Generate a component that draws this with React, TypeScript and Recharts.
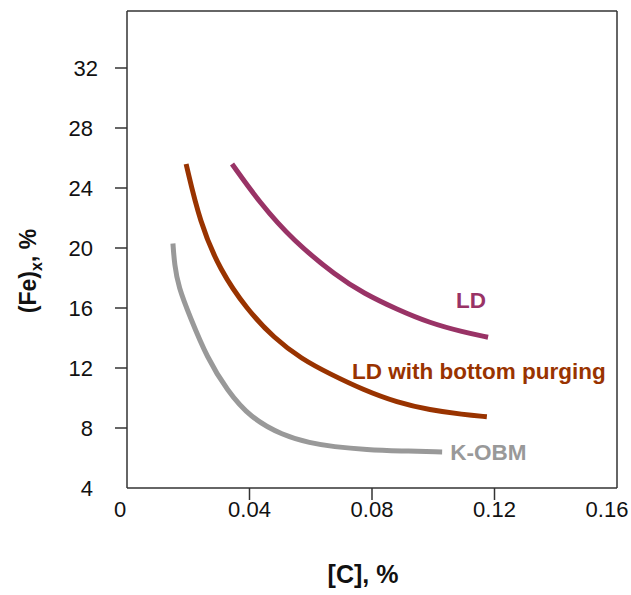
import { LineChart, Line, XAxis, YAxis, ReferenceLine, ReferenceDot } from "recharts";

// curves: x = [C] %, y = (Fe)x %
const ldCurve = [
  { x: 0.0343, y: 25.6 },
  { x: 0.0434, y: 23.0 },
  { x: 0.0542, y: 20.5 },
  { x: 0.0686, y: 18.1 },
  { x: 0.0771, y: 17.0 },
  { x: 0.0882, y: 15.9 },
  { x: 0.0989, y: 15.0 },
  { x: 0.1097, y: 14.4 },
  { x: 0.1179, y: 14.05 },
];

const ldBottomCurve = [
  { x: 0.0193, y: 25.6 },
  { x: 0.0238, y: 21.7 },
  { x: 0.0304, y: 18.5 },
  { x: 0.0392, y: 15.9 },
  { x: 0.048, y: 14.0 },
  { x: 0.057, y: 12.6 },
  { x: 0.0663, y: 11.6 },
  { x: 0.0771, y: 10.55 },
  { x: 0.0882, y: 9.7 },
  { x: 0.0989, y: 9.2 },
  { x: 0.1097, y: 8.9 },
  { x: 0.1175, y: 8.75 },
];

const kobmCurve = [
  { x: 0.015, y: 20.3 },
  { x: 0.0155, y: 18.9 },
  { x: 0.0168, y: 17.4 },
  { x: 0.0206, y: 15.4 },
  { x: 0.0261, y: 12.7 },
  { x: 0.0327, y: 10.5 },
  { x: 0.0402, y: 8.7 },
  { x: 0.0509, y: 7.5 },
  { x: 0.0598, y: 7.0 },
  { x: 0.0673, y: 6.75 },
  { x: 0.0784, y: 6.55 },
  { x: 0.0892, y: 6.47 },
  { x: 0.1029, y: 6.4 },
];

const xTicks = [0, 0.04, 0.08, 0.12, 0.16];
const yTicks = [4, 8, 12, 16, 20, 24, 28, 32];

const seriesLabels = [
  { text: "LD", x: 0.1123, y: 16.53, color: "#993366" },
  { text: "LD with bottom purging", x: 0.1149, y: 11.77, color: "#993300" },
  { text: "K-OBM", x: 0.118, y: 6.43, color: "#999999" },
];

const FONT = "'Liberation Sans', Arial, sans-serif";
const AXIS = "#333";

const XTick = (props: any) => {
  const { x, y, payload } = props;
  const v = payload.value;
  const showLine = v !== 0 && v !== 0.16;
  const dx = v === 0 ? -7 : v === 0.16 ? -10 : 0;
  return (
    <g>
      {showLine && <line x1={x} y1={y} x2={x} y2={y + 12} stroke={AXIS} strokeWidth={1.5} />}
      <text x={x + dx} y={y + 29} textAnchor="middle" fontFamily={FONT} fontSize={22} fill="#111">
        {v}
      </text>
    </g>
  );
};

const YTick = (props: any) => {
  const { x, y, payload } = props;
  const v = payload.value;
  return (
    <g>
      {v !== 4 && <line x1={x - 12} y1={y} x2={x} y2={y} stroke={AXIS} strokeWidth={1.5} />}
      <text x={v === 32 ? 98 : 93} y={y + 7.5} textAnchor="end" fontFamily={FONT} fontSize={22} fill="#111">
        {v}
      </text>
    </g>
  );
};

const XTitle = () => (
  <text x={363} y={583} textAnchor="middle" fontFamily={FONT} fontSize={25} fontWeight="bold" fill="#111">
    [C], %
  </text>
);

const YTitle = () => (
  <text
    x={36}
    y={271}
    transform="rotate(-90 36 271)"
    textAnchor="middle"
    fontFamily={FONT}
    fontSize={23}
    fontWeight="bold"
    fill="#111"
  >
    <tspan>(Fe)</tspan>
    <tspan dy={6} fontSize={16}>x</tspan>
    <tspan dy={-6}>, %</tspan>
  </text>
);

export default function App() {
  return (
    <div style={{ position: "absolute", left: 0, top: 0, background: "#fff" }}>
      <LineChart width={631} height={595} margin={{ top: 11, right: 14, left: 0, bottom: 0 }}>
        <XAxis
          type="number"
          dataKey="x"
          domain={[0, 0.16]}
          ticks={xTicks}
          height={107}
          tickSize={0}
          tickMargin={0}
          tickLine={false}
          tick={<XTick />}
          axisLine={{ stroke: AXIS, strokeWidth: 1.5 }}
          allowDataOverflow
          label={<XTitle />}
        />
        <YAxis
          type="number"
          domain={[4, 35.8]}
          ticks={yTicks}
          width={127}
          tickSize={0}
          tickMargin={0}
          tickLine={false}
          tick={<YTick />}
          axisLine={{ stroke: AXIS, strokeWidth: 1.5 }}
          allowDataOverflow
          label={<YTitle />}
        />
        <ReferenceLine y={35.8} stroke={AXIS} strokeWidth={1.5} />
        <ReferenceLine x={0.16} stroke={AXIS} strokeWidth={1.5} />
        <Line data={ldCurve} dataKey="y" type="basis" stroke="#993366" strokeWidth={5} dot={false} isAnimationActive={false} />
        <Line data={ldBottomCurve} dataKey="y" type="basis" stroke="#993300" strokeWidth={5} dot={false} isAnimationActive={false} />
        <Line data={kobmCurve} dataKey="y" type="basis" stroke="#999999" strokeWidth={5} dot={false} isAnimationActive={false} />
        {seriesLabels.map((s) => (
          <ReferenceDot
            key={s.text}
            x={s.x}
            y={s.y}
            r={1}
            fillOpacity={0}
            strokeOpacity={0}
            label={{
              value: s.text,
              position: "center",
              fill: s.color,
              fontSize: 22.5,
              fontWeight: "bold",
              fontFamily: FONT,
            }}
          />
        ))}
      </LineChart>
    </div>
  );
}
